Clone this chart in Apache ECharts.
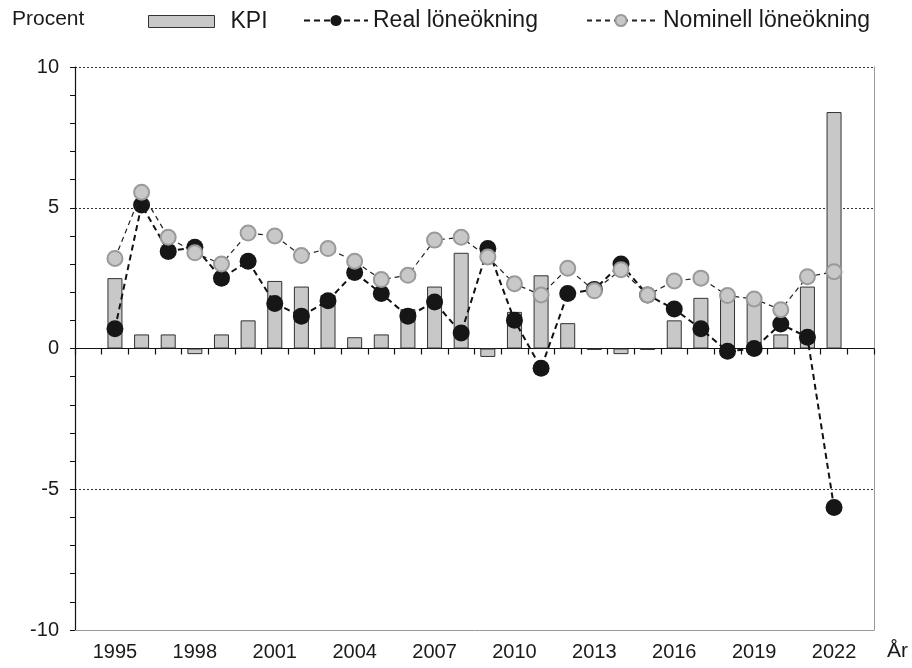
<!DOCTYPE html>
<html>
<head>
<meta charset="utf-8">
<script src="https://cdn.jsdelivr.net/npm/echarts@6/dist/echarts.min.js"></script>
<style>
    html, body { margin: 0; padding: 0; background: #fff; }
    #chart { width: 912px; height: 668px; }
</style>
</head>
<body>
<div id="chart"></div>
<script>
// årtal och serier (procent)
const years = [1995, 1996, 1997, 1998, 1999, 2000, 2001, 2002, 2003, 2004, 2005, 2006, 2007, 2008,
    2009, 2010, 2011, 2012, 2013, 2014, 2015, 2016, 2017, 2018, 2019, 2020, 2021, 2022]
const kpi = [2.5, 0.5, 0.5, -0.2, 0.5, 1.0, 2.4, 2.2, 1.9, 0.4, 0.5, 1.4, 2.2, 3.4,
    -0.3, 1.3, 2.6, 0.9, -0.05, -0.2, -0.05, 1.0, 1.8, 2.0, 1.8, 0.5, 2.2, 8.4]
const realLon = [0.7, 5.1, 3.45, 3.6, 2.5, 3.1, 1.6, 1.15, 1.7, 2.7, 1.95, 1.15, 1.65, 0.55,
    3.55, 1.0, -0.7, 1.95, 2.1, 3.0, 1.9, 1.4, 0.7, -0.1, 0.0, 0.87, 0.4, -5.65]
const nominellLon = [3.2, 5.55, 3.95, 3.4, 3.0, 4.1, 4.0, 3.3, 3.55, 3.1, 2.45, 2.6, 3.85, 3.95,
    3.25, 2.3, 1.9, 2.85, 2.05, 2.8, 1.9, 2.4, 2.5, 1.88, 1.76, 1.38, 2.55, 2.73]
const yTicks = [-10, -5, 0, 5, 10]

// tom kategori före och efter, som i originalet
const categories = [''].concat(years.map(String), [''])
const pad = arr => ['-'].concat(arr, ['-'])

const font = 'Liberation Sans, Arial, sans-serif'
const textColor = '#1a1a1a'

const myChart = echarts.init(document.getElementById('chart'))
const option = {
    animation: false,
    textStyle: { fontFamily: font },
    title: [
        { text: 'Procent', left: 12, top: 9, padding: 0, textStyle: { fontSize: 21, fontWeight: 'normal', color: textColor, fontFamily: font } },
        { text: 'År', left: 887, top: 641, padding: 0, textStyle: { fontSize: 21, fontWeight: 'normal', color: textColor, fontFamily: font } }
    ],
    legend: [
        {
            data: [{ name: 'KPI', icon: 'rect' }], left: 148, top: 10, padding: 0, itemWidth: 66, itemHeight: 12,
            itemStyle: { borderWidth: 1, borderColor: '#333' },
            textStyle: { fontSize: 23, color: textColor, padding: [0, 0, 0, 11] }
        },
        {
            data: ['Real löneökning'], left: 303, top: 9, padding: 0, itemWidth: 64, itemHeight: 14,
            textStyle: { fontSize: 23, color: textColor }
        },
        {
            data: ['Nominell löneökning'], left: 586, top: 9, padding: 0, itemWidth: 68, itemHeight: 14,
            textStyle: { fontSize: 23, color: textColor, padding: [0, 0, 0, 3] }
        }
    ],
    grid: { left: 75, right: 38, top: 67, bottom: 38, containLabel: false },
    xAxis: [
        {
            type: 'category',
            data: categories,
            boundaryGap: true,
            axisLine: { onZero: true, lineStyle: { color: '#111', width: 1.2 } },
            axisTick: { show: true, interval: 0, length: 6, lineStyle: { color: '#111', width: 1.2 } },
            axisLabel: { show: false },
            splitLine: { show: false }
        },
        {
            type: 'category',
            data: categories,
            position: 'bottom',
            axisLine: { onZero: false, lineStyle: { color: '#9a9a9a', width: 1 } },
            axisTick: { show: false },
            axisLabel: {
                interval: (i, v) => v !== '' && (Number(v) - years[0]) % 3 === 0,
                fontSize: 20, color: textColor, margin: 12
            },
            splitLine: { show: false }
        }
    ],
    yAxis: [
        {
            type: 'value', min: yTicks[0], max: yTicks[yTicks.length - 1], interval: 5,
            axisLine: { show: true, lineStyle: { color: '#111', width: 1.2 } },
            axisTick: { show: true, length: 5, lineStyle: { color: '#111' } },
            axisLabel: { fontSize: 20, color: textColor, margin: 16 },
            splitLine: { show: true, lineStyle: { color: '#333', width: 1, type: [2, 2] } }
        },
        {
            // små streck för varje heltal
            type: 'value', min: -10, max: 10, interval: 1, position: 'left',
            axisLine: { show: false },
            axisTick: { show: true, length: 5, lineStyle: { color: '#111' } },
            axisLabel: { show: false },
            splitLine: { show: false }
        },
        {
            type: 'value', min: -10, max: 10, position: 'right',
            axisLine: { show: true, lineStyle: { color: '#9a9a9a', width: 1 } },
            axisTick: { show: false },
            axisLabel: { show: false },
            splitLine: { show: false }
        }
    ],
    series: [
        {
            name: 'KPI',
            type: 'bar',
            data: pad(kpi),
            barWidth: 15,
            itemStyle: { color: '#c8c8c8', borderColor: '#333', borderWidth: 1 },
            z: 2
        },
        {
            name: 'Real löneökning',
            type: 'line',
            data: pad(realLon),
            symbol: 'circle',
            symbolSize: 17,
            lineStyle: { color: '#111', width: 2, type: [6, 4] },
            itemStyle: { color: '#161616', borderColor: '#161616', borderWidth: 0 },
            z: 3
        },
        {
            name: 'Nominell löneökning',
            type: 'line',
            data: pad(nominellLon),
            symbol: 'circle',
            symbolSize: 15,
            lineStyle: { color: '#222', width: 1.2, type: [5, 4] },
            itemStyle: { color: '#c8c8c8', borderColor: '#9a9a9a', borderWidth: 2 },
            z: 4
        }
    ]
}
myChart.setOption(option)
window.onresize = myChart.resize
</script>
</body>
</html>
